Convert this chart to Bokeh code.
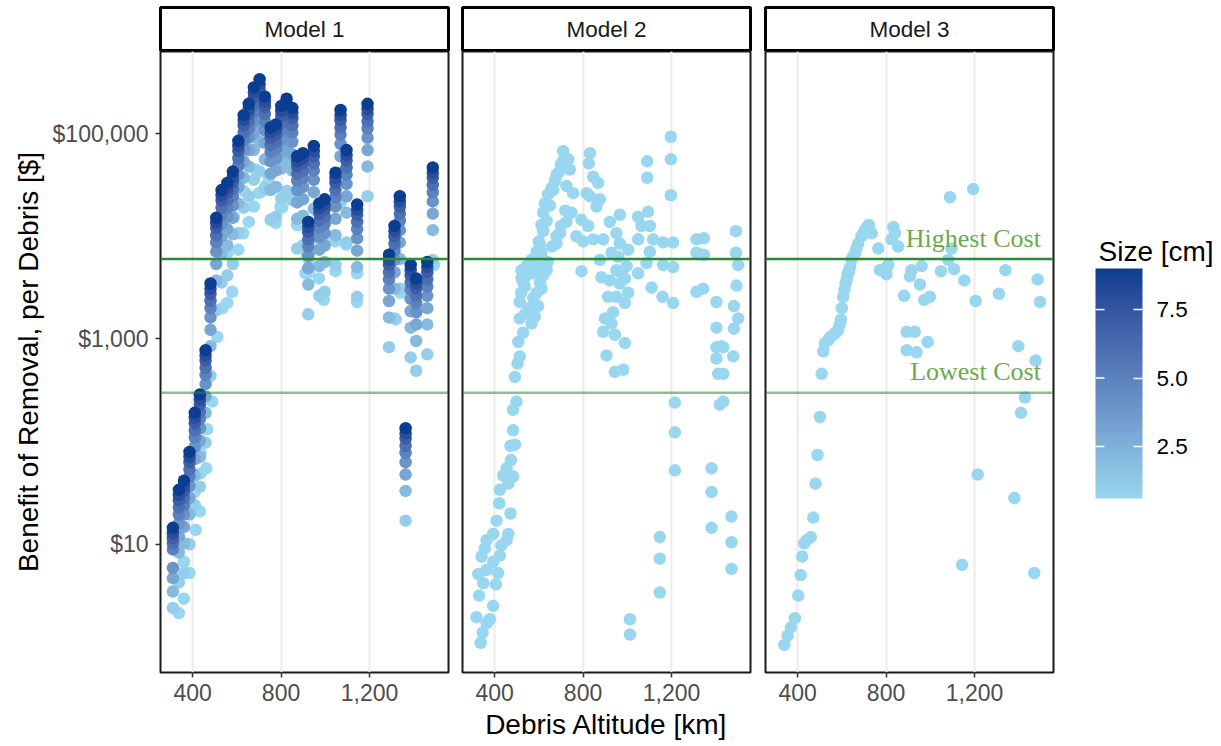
import numpy as np
from bokeh.plotting import figure
from bokeh.layouts import row, column
from bokeh.models import (Range1d, FixedTicker, Span, ColumnDataSource,
                          LinearColorMapper, ColorBar, PrintfTickFormatter)
from bokeh.core.properties import value
from bokeh.embed import file_html
from bokeh.resources import INLINE

# ------------------------------------------------------------------ data
strip_labels = ["Model 1", "Model 2", "Model 3"]
x_ticks = [400, 800, 1200]
x_tick_labels = ["400", "800", "1,200"]
y_ticks = [10, 1000, 100000]
y_tick_labels = ["$10", "$1,000", "$100,000"]
size_ticks = [2.5, 5.0, 7.5]
highest_cost = 6000
lowest_cost = 300

# Model 1: debris sizes [cm] of the stacked points in each altitude column
m1_size_levels = [9, 8, 7, 6, 5, 4, 3, 2, 1]
m1_col_alt = [311, 338, 361, 386, 410, 433, 459, 481, 507, 531, 557, 582, 607, 631,
              654, 677, 703, 727, 753, 777, 801, 825, 851, 873, 899, 923, 948, 973,
              997, 1046, 1069, 1096, 1144, 1191, 1288, 1313, 1337, 1363, 1386, 1411,
              1461, 1486]
# log10 of benefit [$], top (size 9) to bottom (size 1) for every column
m1_col_log10 = [
    [1.16, 1.11, 1.06, 1.01, 0.95, 0.77, 0.67, 0.54, 0.38],
    [1.53, 1.48, 1.43, 1.36, 1.29, 1.20, 1.08, 0.92, 0.63],
    [1.62, 1.57, 1.52, 1.45, 1.38, 1.29, 1.17, 1.01, 0.72],
    [1.90, 1.85, 1.80, 1.73, 1.66, 1.57, 1.45, 1.29, 1.00],
    [2.28, 2.23, 2.18, 2.11, 2.04, 1.95, 1.83, 1.67, 1.38],
    [2.46, 2.41, 2.36, 2.29, 2.22, 2.13, 2.01, 1.85, 1.56],
    [2.89, 2.84, 2.79, 2.72, 2.65, 2.56, 2.44, 2.28, 1.99],
    [3.54, 3.49, 3.44, 3.37, 3.30, 3.21, 3.09, 2.93, 2.64],
    [4.18, 4.13, 4.08, 4.01, 3.94, 3.85, 3.73, 3.57, 3.28],
    [4.45, 4.40, 4.35, 4.28, 4.21, 4.12, 4.00, 3.84, 3.55],
    [4.52, 4.47, 4.42, 4.35, 4.28, 4.19, 4.07, 3.91, 3.62],
    [4.63, 4.58, 4.53, 4.46, 4.39, 4.30, 4.18, 4.02, 3.73],
    [4.93, 4.88, 4.83, 4.76, 4.69, 4.60, 4.48, 4.32, 4.03],
    [5.18, 5.13, 5.08, 5.01, 4.94, 4.85, 4.73, 4.57, 4.28],
    [5.29, 5.24, 5.19, 5.12, 5.05, 4.96, 4.84, 4.68, 4.39],
    [5.45, 5.40, 5.35, 5.28, 5.21, 5.12, 5.00, 4.84, 4.55],
    [5.53, 5.48, 5.43, 5.36, 5.29, 5.20, 5.08, 4.92, 4.63],
    [5.36, 5.31, 5.26, 5.19, 5.12, 5.03, 4.91, 4.75, 4.46],
    [5.06, 5.01, 4.96, 4.89, 4.82, 4.73, 4.61, 4.45, 4.16],
    [5.09, 5.04, 4.99, 4.92, 4.85, 4.76, 4.64, 4.48, 4.19],
    [5.27, 5.22, 5.17, 5.10, 5.03, 4.94, 4.82, 4.66, 4.37],
    [5.34, 5.29, 5.24, 5.17, 5.10, 5.01, 4.89, 4.73, 4.44],
    [5.25, 5.20, 5.15, 5.08, 5.01, 4.92, 4.80, 4.64, 4.35],
    [4.78, 4.73, 4.68, 4.61, 4.54, 4.45, 4.33, 4.17, 3.88],
    [4.81, 4.76, 4.71, 4.64, 4.57, 4.48, 4.36, 4.20, 3.91],
    [4.14, 4.09, 4.04, 3.97, 3.90, 3.81, 3.69, 3.53, 3.24],
    [4.88, 4.83, 4.78, 4.71, 4.64, 4.55, 4.43, 4.27, 3.98],
    [4.32, 4.27, 4.22, 4.15, 4.08, 3.99, 3.87, 3.71, 3.42],
    [4.36, 4.31, 4.26, 4.19, 4.12, 4.03, 3.91, 3.75, 3.46],
    [4.62, 4.57, 4.52, 4.45, 4.38, 4.29, 4.17, 4.01, 3.72],
    [5.23, 5.18, 5.13, 5.06, 4.99, 4.90, 4.78, 4.62, 4.33],
    [4.84, 4.79, 4.74, 4.67, 4.60, 4.51, 4.39, 4.23, 3.94],
    [4.31, 4.26, 4.21, 4.14, 4.07, 3.98, 3.86, 3.70, 3.41],
    [5.29, 5.24, 5.19, 5.12, 5.05, 4.96, 4.84, 4.68, 4.39],
    [3.82, 3.77, 3.72, 3.65, 3.58, 3.49, 3.37, 3.21, 2.92],
    [4.10, 4.05, 4.00, 3.93, 3.86, 3.77, 3.65, 3.49, 3.20],
    [4.39, 4.34, 4.29, 4.22, 4.15, 4.06, 3.94, 3.78, 3.49],
    [2.13, 2.08, 2.03, 1.96, 1.89, 1.80, 1.68, 1.52, 1.23],
    [3.72, 3.67, 3.62, 3.55, 3.48, 3.39, 3.27, 3.11, 2.82],
    [3.59, 3.54, 3.49, 3.42, 3.35, 3.26, 3.14, 2.98, 2.69],
    [3.75, 3.70, 3.65, 3.58, 3.51, 3.42, 3.30, 3.14, 2.85],
    [4.67, 4.62, 4.57, 4.50, 4.43, 4.34, 4.22, 4.06, 3.77],
]
# Model 1: smallest debris (size 0.6 cm)
m1_small_alt = [579, 557, 534, 512, 489, 466, 436, 462, 436, 410, 433, 414, 386, 361, 361, 338,
                677, 654, 629, 775, 730, 715, 798, 828, 685, 745, 587, 632, 896, 911, 926, 700,
                805, 873, 926, 993, 1046, 1095, 971, 993, 1046, 1144, 1144, 1318, 1340, 1491,
                918, 926, 607, 557]
m1_small_log10 = [3.46, 3.35, 3.30, 3.02, 2.39, 2.12, 1.89, 1.74, 1.69, 1.51, 1.32, 1.14, 0.72,
                  0.83, 0.47, 0.33, 4.29, 4.14, 4.03, 4.13, 4.49, 4.44, 4.29, 4.44, 4.65, 4.57,
                  4.19, 4.44, 4.11, 3.64, 3.77, 4.42, 4.28, 4.11, 3.84, 3.95, 3.95, 3.92, 3.59,
                  3.38, 3.66, 3.36, 3.64, 3.19, 3.45, 3.72, 3.82, 3.65, 3.87, 3.84]
m1_small_size = 0.6

# Model 2 (all debris 0.6 cm)
m2_alt = [710, 733, 707, 740, 680, 673, 658, 725, 642, 755, 627, 620, 612, 748, 725, 695, 680,
          605, 612, 597, 582, 567, 544, 522, 522, 537, 514, 612, 635, 597, 582, 567, 514, 529,
          507, 514,
          520, 530, 545, 555, 575, 590, 600, 620, 635, 650, 665, 690, 700, 540, 555, 575, 590,
          605, 620, 640, 660, 680, 700, 720,
          831, 826, 846, 868, 816, 831, 876, 861, 793, 823, 770, 801, 846, 891, 921, 966, 951,
          966, 1004, 959, 876, 929, 997, 951, 793, 974, 989, 883, 921, 966, 1004, 914, 951,
          989, 936, 899, 929, 891, 944, 989, 906,
          1090, 1090, 1197, 1197, 1197, 1094, 1049, 1064, 1102, 1117, 1049, 1162, 1207, 1102,
          1087, 1162, 1207, 1049, 1110, 1159, 1207,
          1313, 1346, 1313, 1346, 1313, 1343, 1403, 1403, 1426, 1403, 1491, 1491, 1501, 1494,
          1482, 1501, 1482, 1479,
          504, 492, 499, 484, 484, 492, 472, 474, 454, 439, 484, 462, 424, 421, 409, 472, 462,
          394, 454, 364, 431, 356, 424, 341, 394, 326, 364, 416, 349, 406, 330, 394, 318, 379,
          364, 346, 337,
          944, 982, 1215, 1215, 1215, 1147, 1147, 1147, 1012, 1012,
          1403, 1434, 1411, 1434, 1418, 1434, 1381, 1381, 1381, 1471, 1471, 1471]
m2_log10 = [4.83, 4.75, 4.73, 4.65, 4.60, 4.54, 4.47, 4.49, 4.41, 4.42, 4.32, 4.23, 4.11, 4.23,
            4.14, 4.03, 3.93, 3.92, 3.84, 3.71, 3.64, 3.77, 3.71, 3.67, 3.59, 3.51, 3.36, 3.49,
            3.67, 3.32, 3.22, 3.15, 3.20, 3.06, 2.97, 2.83,
            3.45, 3.55, 3.62, 3.69, 3.76, 3.85, 3.95, 4.05, 4.15, 4.30, 4.45, 4.62, 4.70, 3.25,
            3.30, 3.40, 3.45, 3.55, 3.62, 3.75, 3.90, 4.00, 4.10, 4.25,
            4.81, 4.71, 4.58, 4.52, 4.42, 4.39, 4.36, 4.29, 4.16, 4.10, 4.00, 3.95, 3.97, 3.97,
            4.14, 4.21, 4.03, 3.93, 3.87, 3.80, 3.77, 3.84, 3.71, 3.67, 3.66, 3.64, 3.59, 3.60,
            3.57, 3.54, 3.45, 3.41, 3.41, 3.35, 3.26, 3.20, 3.15, 3.07, 3.04, 2.96, 2.84,
            4.73, 4.57, 4.97, 4.75, 4.40, 4.24, 4.19, 4.10, 4.10, 3.97, 3.97, 3.94, 3.94, 3.85,
            3.74, 3.72, 3.70, 3.64, 3.50, 3.41, 3.35,
            3.97, 3.98, 3.84, 3.82, 3.46, 3.49, 3.36, 3.11, 2.93, 2.81, 4.05, 3.84, 3.72, 3.52,
            3.32, 3.20, 3.10, 2.83,
            2.76, 2.63, 2.39, 2.31, 2.11, 1.97, 1.96, 1.82, 1.74, 1.67, 1.66, 1.59, 1.53, 1.40,
            1.23, 1.30, 1.10, 1.10, 1.04, 1.04, 0.99, 0.96, 0.89, 0.88, 0.83, 0.71, 0.75, 0.72,
            0.62, 0.61, 0.50, 0.40, 0.29, 0.27, 0.23, 0.14, 0.04,
            2.68, 2.70, 2.38, 2.09, 1.72, 1.07, 0.86, 0.53, 0.27, 0.12,
            2.92, 2.92, 2.66, 2.66, 2.36, 2.39, 1.74, 1.51, 1.16, 1.27, 1.02, 0.76]

# Model 3 (all debris 0.6 cm)
m3_alt = [1089, 1194, 722, 704, 735, 689, 833, 840, 825, 855, 765, 674, 659, 644, 637, 626, 617,
          606, 596, 584, 561, 539, 516, 772, 802, 810, 915, 908, 961, 953, 882, 973, 998, 893,
          930, 988, 893, 938, 1048, 1081, 1108, 1096, 1154, 1205, 1310, 1340, 1398, 1485, 1496,
          1476,
          524, 509, 501, 490, 481, 471, 460, 441, 430, 421, 414, 403, 388, 370, 355, 340, 1428,
          1410, 1214, 1380, 1144, 1470,
          548, 572, 590, 600, 612, 622, 632, 650, 666, 697, 714]
m3_log10 = [4.38, 4.46, 4.11, 4.06, 4.03, 4.00, 4.09, 4.03, 3.97, 3.90, 3.88, 3.93, 3.83, 3.77,
            3.70, 3.63, 3.54, 3.41, 3.19, 3.09, 3.04, 2.99, 2.88, 3.67, 3.63, 3.72, 3.67, 3.61,
            3.71, 3.53, 3.42, 3.38, 3.41, 3.07, 3.07, 2.97, 2.89, 2.87, 3.66, 3.77, 3.68, 3.88,
            3.57, 3.37, 3.44, 3.67, 2.93, 3.58, 3.36, 2.79,
            2.96, 2.66, 2.24, 1.87, 1.59, 1.26, 1.07, 1.04, 1.01, 0.88, 0.70, 0.50, 0.28, 0.19,
            0.11, 0.02, 2.43, 2.28, 1.68, 1.45, 0.80, 0.72,
            3.02, 3.06, 3.14, 3.30, 3.48, 3.58, 3.66, 3.80, 3.88, 4.03, 4.09]
m23_size = 0.6

# ------------------------------------------------------------------ colours
LOW_COL, HIGH_COL = "#99D6EF", "#0B3D91"


def _lin(c):
    return c / 12.92 if c <= 0.04045 else ((c + 0.055) / 1.055) ** 2.4


def _gam(c):
    c = min(max(c, 0.0), 1.0)
    return 12.92 * c if c <= 0.0031308 else 1.055 * c ** (1 / 2.4) - 0.055


_M = np.array([[0.4124, 0.3576, 0.1805], [0.2126, 0.7152, 0.0722], [0.0193, 0.1192, 0.9505]])
_WHITE = np.array([0.95047, 1.0, 1.08883])


def _to_lab(h):
    rgb = np.array([_lin(int(h[i:i + 2], 16) / 255) for i in (1, 3, 5)])
    xyz = _M @ rgb / _WHITE
    f = np.where(xyz > 0.008856, np.cbrt(xyz), 7.787 * xyz + 16 / 116)
    return np.array([116 * f[1] - 16, 500 * (f[0] - f[1]), 200 * (f[1] - f[2])])


def _from_lab(lab):
    fy = (lab[0] + 16) / 116
    fx = fy + lab[1] / 500
    fz = fy - lab[2] / 200
    f = np.array([fx, fy, fz])
    xyz = np.where(f ** 3 > 0.008856, f ** 3, (f - 16 / 116) / 7.787) * _WHITE
    rgb = np.linalg.solve(_M, xyz)
    return "#" + "".join("%02X" % int(round(_gam(c) * 255)) for c in rgb)


_la, _lb = _to_lab(LOW_COL), _to_lab(HIGH_COL)
palette = [_from_lab(_la + (_lb - _la) * t) for t in np.linspace(0, 1, 256)]

all_sizes = m1_size_levels + [m1_small_size, m23_size]
SIZE_LO, SIZE_HI = min(all_sizes), max(all_sizes)
mapper = LinearColorMapper(palette=palette, low=SIZE_LO, high=SIZE_HI)

# ------------------------------------------------------------------ sources
m1_alt_pts, m1_ben_pts, m1_size_pts = [], [], []
for a in range(len(m1_small_alt)):
    m1_alt_pts.append(m1_small_alt[a])
    m1_ben_pts.append(10 ** m1_small_log10[a])
    m1_size_pts.append(m1_small_size)
for a, col in zip(m1_col_alt, m1_col_log10):
    for s, v in zip(m1_size_levels, col):
        m1_alt_pts.append(a)
        m1_ben_pts.append(10 ** v)
        m1_size_pts.append(s)
order = np.argsort(m1_size_pts, kind="stable")
src1 = ColumnDataSource(dict(alt=[m1_alt_pts[i] for i in order],
                             benefit=[m1_ben_pts[i] for i in order],
                             size=[m1_size_pts[i] for i in order]))
src2 = ColumnDataSource(dict(alt=m2_alt, benefit=[10 ** v for v in m2_log10],
                             size=[m23_size] * len(m2_alt)))
src3 = ColumnDataSource(dict(alt=m3_alt, benefit=[10 ** v for v in m3_log10],
                             size=[m23_size] * len(m3_alt)))

# ------------------------------------------------------------------ layout constants
SANS = "Liberation Sans"
SERIF = "Liberation Serif"
FRAME_W, FRAME_H = 288, 621
STRIP_TOP, STRIP_H = 7, 44
X_LO, X_HI = 255, 1557
Y_LO, Y_HI = 10 ** -0.249, 10 ** 5.80
BOTTOM = 74
TOTAL_H = STRIP_TOP + STRIP_H + FRAME_H + BOTTOM
borders = [(160, 7), (7, 8), (7, 7)]
LEG_W = 161
BAR_X, BAR_W, BAR_BOTTOM, BAR_H = 35, 47, 498, 230


def make_strip(label, left, right):
    s = figure(frame_width=FRAME_W, frame_height=STRIP_H, x_range=Range1d(0, 1),
               y_range=Range1d(0, 1), output_backend="svg", toolbar_location=None,
               min_border_left=left, min_border_right=right, min_border_top=STRIP_TOP,
               min_border_bottom=0, outline_line_color="black", outline_line_width=3)
    s.axis.visible = False
    s.grid.grid_line_color = None
    s.text(x=[0.5], y=[0.5], text=[label], text_align="center", text_baseline="middle",
           text_font=value(SANS), text_font_size="22.5px", text_color="#1A1A1A")
    return s


def make_panel(src, left, right):
    p = figure(frame_width=FRAME_W, frame_height=FRAME_H, x_range=Range1d(X_LO, X_HI),
               y_range=Range1d(Y_LO, Y_HI), y_axis_type="log", output_backend="svg",
               toolbar_location=None, min_border_left=left, min_border_right=right,
               min_border_top=0, min_border_bottom=BOTTOM,
               outline_line_color="#1A1A1A", outline_line_width=2)
    p.xgrid.grid_line_color = "#EBEBEB"
    p.xgrid.grid_line_width = 2
    p.ygrid.grid_line_color = None
    p.xaxis.ticker = FixedTicker(ticks=x_ticks, minor_ticks=[])
    p.xaxis.major_label_overrides = dict(zip(x_ticks, x_tick_labels))
    p.yaxis.ticker = FixedTicker(ticks=y_ticks, minor_ticks=[])
    p.yaxis.major_label_overrides = dict(zip(y_ticks, y_tick_labels))
    for ax in p.xaxis + p.yaxis:
        ax.axis_line_color = None
        ax.major_tick_line_color = "#333333"
        ax.major_tick_line_width = 1.5
        ax.major_tick_out = 5
        ax.major_tick_in = 0
        ax.minor_tick_line_color = None
        ax.major_label_text_font = SANS
        ax.major_label_text_font_size = "23px"
        ax.major_label_text_color = "#4D4D4D"
        ax.axis_label_text_font = SANS
        ax.axis_label_text_font_size = "28px"
        ax.axis_label_text_font_style = "normal"
        ax.axis_label_text_color = "black"
    p.xaxis.major_label_standoff = 6
    p.xaxis.axis_label_standoff = 5
    p.yaxis.major_label_standoff = 7
    p.yaxis.axis_label_standoff = 6
    p.add_layout(Span(location=highest_cost, dimension="width", line_color="#2A8A36",
                      line_width=2.5))
    p.add_layout(Span(location=lowest_cost, dimension="width", line_color="#2A8A36",
                      line_alpha=0.55, line_width=2.5))
    p.scatter(x="alt", y="benefit", source=src, size=12.5, marker="circle",
              fill_color={"field": "size", "transform": mapper}, line_color=None,
              fill_alpha=1.0)
    return p


sources = [src1, src2, src3]
strips, panels = [], []
for i in range(3):
    strips.append(make_strip(strip_labels[i], *borders[i]))
    panels.append(make_panel(sources[i], *borders[i]))

panels[0].yaxis.axis_label = "Benefit of Removal, per Debris [$]"
panels[1].yaxis.visible = False
panels[2].yaxis.visible = False
panels[1].xaxis.axis_label = "Debris Altitude [km]"

panels[2].text(x=[1500, 1500], y=[highest_cost * 1.6, lowest_cost * 1.6],
               text=["Highest Cost", "Lowest Cost"], text_align="right",
               text_baseline="alphabetic", text_font=value(SERIF),
               text_font_size="26px", text_color="#6BAA4B")

# ------------------------------------------------------------------ colour bar
leg = figure(frame_width=LEG_W, frame_height=TOTAL_H,
             x_range=Range1d(0, LEG_W), y_range=Range1d(TOTAL_H, 0), output_backend="svg",
             toolbar_location=None, min_border=0, outline_line_color=None)
leg.axis.visible = False
leg.grid.grid_line_color = None
leg.text(x=[BAR_X + 3], y=[251], text=["Size [cm]"], text_align="left",
         text_baseline="alphabetic", text_font=value(SANS), text_font_size="28px",
         text_color="black")
cb = ColorBar(color_mapper=mapper, location=(BAR_X, TOTAL_H - BAR_BOTTOM), width=BAR_W,
              height=BAR_H, padding=0, ticker=FixedTicker(ticks=size_ticks),
              formatter=PrintfTickFormatter(format="%.1f"),
              major_label_text_font=SANS, major_label_text_font_size="22.5px",
              major_label_text_color="black", major_tick_line_color="white",
              major_tick_line_width=1.5, major_tick_in=9, major_tick_out=0,
              minor_tick_line_color=None, label_standoff=14, bar_line_color=None,
              border_line_color=None, background_fill_color=None)
leg.add_layout(cb)
# white ticks on the left edge of the bar (ggplot draws them on both sides)
tick_y = [BAR_BOTTOM - (t - SIZE_LO) / (SIZE_HI - SIZE_LO) * BAR_H for t in size_ticks]
leg.segment(x0=[BAR_X] * len(tick_y), x1=[BAR_X + 9] * len(tick_y), y0=tick_y, y1=tick_y,
            line_color="white", line_width=1.5, level="overlay")

layout = row(column(strips[0], panels[0]), column(strips[1], panels[1]),
             column(strips[2], panels[2]), leg)

open("out.html", "w").write(file_html(layout, INLINE))
